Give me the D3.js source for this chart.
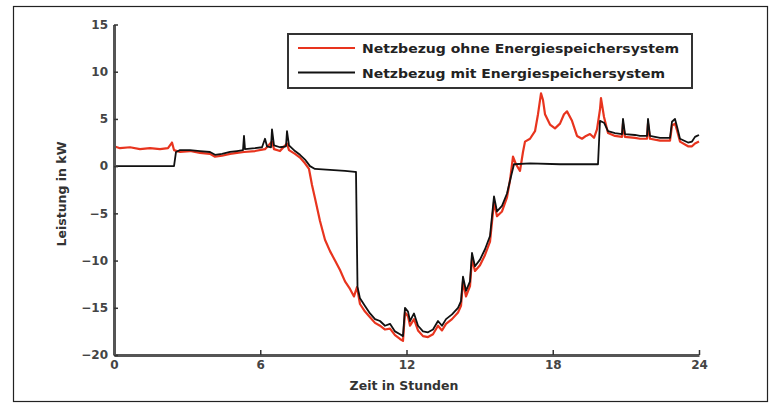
<!DOCTYPE html>
<html>
<head>
<meta charset="utf-8">
<script src="https://cdn.jsdelivr.net/npm/d3@7"></script>
<style>
  body { margin: 0; background: #fff; }
  svg text { font-family: "DejaVu Sans", Verdana, sans-serif; font-weight: bold; }
</style>
</head>
<body>
<div class="chart"></div>
<script>
var width = 773,
    height = 403;

// Zeit in Stunden / Leistung in kW
var ohneZeit = [0, 0.246, 0.656, 1.067, 1.477, 1.887, 2.215, 2.379, 2.462, 2.708, 3.118, 3.528, 3.938, 4.144, 4.431, 4.759,
  5.046, 5.333, 5.785, 6.195, 6.482, 6.564, 6.810, 7.097, 7.179, 7.426, 7.631, 7.836, 8.0, 8.123, 8.246, 8.451, 8.656,
  8.862, 9.067, 9.272, 9.477, 9.682, 9.846, 9.969, 10.092, 10.297, 10.503, 10.708, 10.913, 11.118, 11.323, 11.528,
  11.733, 11.856, 11.938, 12.062, 12.144, 12.308, 12.472, 12.677, 12.882, 13.087, 13.292, 13.456, 13.621, 13.867,
  14.113, 14.236, 14.318, 14.441, 14.605, 14.687, 14.810, 15.015, 15.221, 15.426, 15.590, 15.713, 15.918, 16.123,
  16.246, 16.369, 16.492, 16.656, 16.779, 16.862, 17.067, 17.272, 17.395, 17.518, 17.600, 17.682, 17.887, 18.092,
  18.297, 18.462, 18.585, 18.790, 18.995, 19.200, 19.364, 19.528, 19.692, 19.815, 19.938, 19.979, 20.103, 20.267,
  20.554, 20.841, 20.882, 20.964, 21.374, 21.579, 21.867, 21.908, 21.990, 22.400, 22.810, 22.892, 23.015, 23.097,
  23.220, 23.549, 23.713, 23.836, 24.0];
var ohneWert = [2.1, 1.9, 2.0, 1.8, 1.9, 1.8, 1.9, 2.5, 1.7, 1.5, 1.6, 1.4, 1.3, 1.0, 1.1, 1.3,
  1.4, 1.5, 1.6, 1.8, 2.6, 1.8, 1.6, 2.4, 1.7, 1.3, 0.9, 0.3, -0.3, -2.0, -3.4, -5.8, -7.8,
  -9.0, -10.0, -11.0, -12.2, -13.0, -13.8, -12.8, -14.6, -15.4, -16.0, -16.6, -16.9, -17.3, -17.2, -17.9,
  -18.3, -18.5, -15.5, -15.9, -16.9, -16.2, -17.4, -18.0, -18.1, -17.8, -16.9, -17.4, -16.7, -16.2,
  -15.5, -14.8, -12.2, -13.8, -12.7, -9.8, -11.1, -10.5, -9.4, -8.0, -3.8, -5.3, -4.8, -3.3,
  -1.5, 1.0, 0.2, -0.5, 1.5, 2.6, 2.9, 3.7, 5.5, 7.7, 7.0, 5.5, 4.4, 4.0,
  4.5, 5.5, 5.8, 4.8, 3.2, 2.9, 3.2, 3.4, 3.0, 3.9, 6.0, 7.2, 5.2, 3.5,
  3.2, 3.1, 4.5, 3.1, 3.0, 2.9, 2.9, 4.5, 2.9, 2.7, 2.7, 4.3, 4.5, 3.8,
  2.6, 2.1, 2.1, 2.4, 2.6];

var mitZeit = [0, 2.462, 2.544, 2.708, 3.118, 3.528, 3.938, 4.144, 4.431, 4.759, 5.046, 5.292, 5.333, 5.374, 5.785,
  6.072, 6.195, 6.277, 6.441, 6.482, 6.564, 6.810, 7.056, 7.097, 7.179, 7.426, 7.631, 7.836, 8.041, 8.246, 8.862,
  9.477, 9.887, 9.928, 9.990, 10.092, 10.297, 10.503, 10.708, 10.913, 11.118, 11.323, 11.528, 11.733, 11.856, 11.938,
  12.062, 12.144, 12.308, 12.472, 12.677, 12.882, 13.087, 13.292, 13.456, 13.621, 13.867, 14.113, 14.236, 14.318,
  14.441, 14.605, 14.687, 14.810, 15.015, 15.221, 15.426, 15.590, 15.713, 15.918, 16.123, 16.287, 16.410, 17.067,
  18.297, 19.856, 19.938, 20.103, 20.267, 20.554, 20.841, 20.882, 20.964, 21.374, 21.579, 21.867, 21.908, 21.990,
  22.400, 22.810, 22.892, 23.015, 23.097, 23.220, 23.549, 23.713, 23.836, 23.918, 24.0];
var mitWert = [0.0, 0.0, 1.5, 1.7, 1.7, 1.6, 1.5, 1.2, 1.3, 1.5, 1.6, 1.7, 3.2, 1.8, 1.9,
  2.0, 2.9, 2.1, 2.0, 3.9, 2.2, 2.0, 2.1, 3.7, 2.2, 1.6, 1.2, 0.7, 0.0, -0.3, -0.4,
  -0.5, -0.6, -0.6, -12.8, -14.0, -14.8, -15.6, -16.2, -16.4, -16.9, -16.7, -17.5, -17.8, -18.0, -15.0,
  -15.4, -16.4, -15.6, -16.9, -17.5, -17.6, -17.3, -16.4, -16.9, -16.2, -15.7, -15.0, -14.3, -11.7,
  -13.2, -12.2, -9.2, -10.6, -9.9, -8.8, -7.4, -3.2, -4.8, -4.2, -2.9, -1.1, 0.2, 0.3,
  0.2, 0.2, 4.8, 4.6, 3.7, 3.5, 3.4, 5.0, 3.4, 3.3, 3.2, 3.2, 5.0, 3.2,
  3.0, 3.0, 4.7, 5.0, 4.2, 2.9, 2.5, 2.6, 3.1, 3.2, 3.3];

var xTicks = [0, 6, 12, 18, 24];
var yTicks = [-20, -15, -10, -5, 0, 5, 10, 15];
var legendNames = ["Netzbezug ohne Energiespeichersystem", "Netzbezug mit Energiespeichersystem"];
var colors = ["#e8341e", "#111"];

var svg = d3.select(".chart")
    .append("svg")
    .attr("width", width)
    .attr("height", height);

// Rahmen
svg.append("rect")
    .attr("x", 13.5)
    .attr("y", 6.5)
    .attr("width", 754)
    .attr("height", 395)
    .attr("fill", "none")
    .attr("stroke", "#222")
    .attr("stroke-width", 1.2);

var x = d3.scaleLinear()
    .domain([0, 24])
    .range([114, 699]);

var y = d3.scaleLinear()
    .domain([-20, 15])
    .range([355, 24.5]);

var line = d3.line()
    .x(function(d){ return x(d[0]); })
    .y(function(d){ return y(d[1]); });

var series = [d3.zip(ohneZeit, ohneWert), d3.zip(mitZeit, mitWert)];

svg.append("g")
    .attr("class", "lines")
    .selectAll("path")
    .data(series)
    .enter()
    .append("path")
    .attr("d", line)
    .attr("fill", "none")
    .attr("stroke", function(d, i){ return colors[i]; })
    .attr("stroke-width", function(d, i){ return i == 0 ? 2.2 : 1.8; })
    .attr("stroke-linejoin", "round");

var xAxis = svg.append("g")
    .attr("transform", "translate(0,355)")
    .call(d3.axisBottom(x).tickValues(xTicks).tickSizeInner(-5).tickSizeOuter(0).tickPadding(5));

var yAxis = svg.append("g")
    .attr("transform", "translate(114,0)")
    .call(d3.axisLeft(y).tickValues(yTicks).tickSizeInner(-4).tickSizeOuter(0).tickPadding(6));

[xAxis, yAxis].forEach(function(a){
  a.select(".domain").attr("stroke", "#555").attr("stroke-width", 3);
  a.selectAll(".tick line").attr("stroke", "#333").attr("stroke-width", 1.5);
  a.selectAll(".tick text")
      .attr("fill", "#444")
      .style("font-size", "12px")
      .style("font-family", "'DejaVu Sans', Verdana, sans-serif")
      .style("font-weight", "bold");
});

svg.append("text")
    .attr("x", 404)
    .attr("y", 390)
    .attr("text-anchor", "middle")
    .attr("fill", "#333")
    .style("font-size", "12.5px")
    .text("Zeit in Stunden");

svg.append("text")
    .attr("transform", "translate(66,194) rotate(-90)")
    .attr("text-anchor", "middle")
    .attr("fill", "#333")
    .style("font-size", "12.5px")
    .text("Leistung in kW");

// Legende
var legend = svg.append("g").attr("class", "legend");

legend.append("rect")
    .attr("x", 288)
    .attr("y", 34)
    .attr("width", 404)
    .attr("height", 54)
    .attr("fill", "#fff")
    .attr("stroke", "#333")
    .attr("stroke-width", 2);

var items = legend.selectAll(".item")
    .data(legendNames)
    .enter()
    .append("g")
    .attr("class", "item")
    .attr("transform", function(d, i){ return "translate(0," + (48 + i * 24.5) + ")"; });

items.append("line")
    .attr("x1", 298)
    .attr("x2", 355)
    .attr("stroke", function(d, i){ return colors[i]; })
    .attr("stroke-width", 2);

items.append("text")
    .attr("x", 362)
    .attr("y", 5)
    .attr("fill", "#222")
    .style("font-size", "13px")
    .attr("textLength", function(d, i){ return i == 0 ? 317 : 303; })
    .attr("lengthAdjust", "spacingAndGlyphs")
    .text(function(d){ return d; });
</script>
</body>
</html>
